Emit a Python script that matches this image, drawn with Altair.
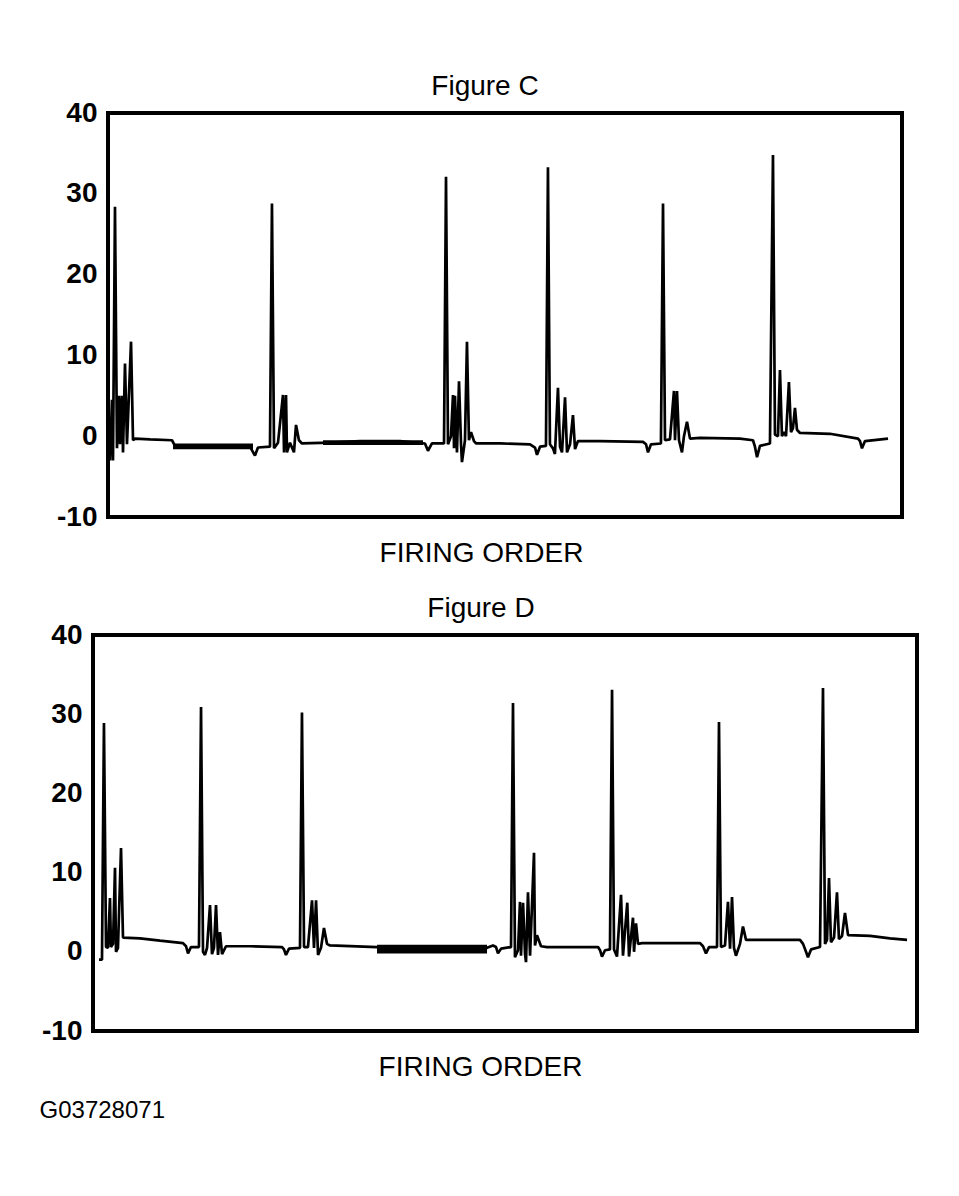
import altair as alt
import pandas as pd

FONT = "Liberation Sans"

# y axis tick values (kV)
y_ticks = [-10, 0, 10, 20, 30, 40]

# Figure C trace: position along sweep (% of sweep) and voltage (kV)
c_x = [0.25, 0.50, 0.63, 0.88, 1.13, 1.39, 1.51, 1.76, 1.89, 2.14, 2.39, 2.90, 3.15, 3.40,
       5.29, 8.06, 8.44, 17.88, 18.51, 18.89, 20.40, 20.65, 20.91, 21.41, 22.04, 22.17,
       22.42, 22.54, 22.92, 23.42, 23.68, 24.05, 24.43, 27.96, 31.74, 36.77, 39.92, 40.30,
       40.80, 42.32, 42.57, 42.82, 43.20, 43.45, 43.58, 43.70, 43.95, 44.21, 44.46, 44.58,
       44.96, 45.21, 45.46, 45.72, 46.09, 46.35, 49.37, 53.15, 53.78, 54.03, 54.41, 55.16,
       55.41, 55.66, 56.04, 56.29, 56.67, 56.93, 57.18, 57.56, 57.81, 58.19, 58.56, 58.82,
       59.19, 61.96, 67.38, 67.76, 68.01, 68.39, 69.64, 69.90, 70.15, 70.78, 71.28, 71.41,
       71.66, 71.91, 72.29, 72.54, 72.92, 73.30, 74.56, 79.59, 81.23, 81.48, 81.74, 82.11,
       83.37, 83.75, 84.00, 84.38, 84.63, 84.88, 85.14, 85.39, 85.76, 86.02, 86.27, 86.52,
       86.77, 87.15, 90.93, 94.46, 94.71, 94.96, 95.34, 98.24]
c_v = [-3.0, 4.5, -3.0, 28.4, -1.5, 5.0, -1.0, 5.0, -2.0, 9.0, -1.0, 11.7, -0.5, -0.3,
       -0.4, -0.5, -1.2, -1.3, -2.4, -1.4, -1.3, 28.8, -1.5, -0.8, 5.1, -2.0,
       5.1, -2.0, -0.8, -2.0, 1.4, -0.5, -0.9, -0.8, -0.6, -0.6, -0.9, -1.8,
       -0.9, -0.9, 32.1, -1.0, 0.0, 5.1, -1.5, 5.0, -2.0, 6.8, -1.0, -3.2,
       -0.5, 11.7, -0.5, 0.5, -0.6, -0.9, -0.9, -1.0, -1.4, -2.3, -1.3, -1.2,
       33.3, -1.0, -1.5, -2.2, 6.0, -1.3, -2.0, 4.8, -2.0, -1.0, 2.6, -1.6,
       -0.6, -0.6, -0.7, -1.0, -2.0, -1.0, -0.9, 28.8, -0.5, -0.4, 5.6, -0.5,
       5.6, -0.5, -2.0, 0.0, 1.8, -0.3, -0.2, -0.3, -0.5, -1.3, -2.6, -1.2,
       -0.9, 34.8, 0.2, 0.0, 8.2, 0.0, 0.5, 0.0, 6.7, 0.5, 1.0, 3.5,
       0.8, 0.4, 0.3, -0.3, -0.6, -1.5, -0.6, -0.3]

# Figure C thick (noisy) baseline stretches
c_band_x1 = [8.19, 27.08]
c_band_x2 = [18.26, 39.67]
c_band_lo = [-1.6, -1.1]
c_band_hi = [-0.9, -0.5]

# Figure D trace
d_x = [0.73, 1.09, 1.33, 1.58, 1.82, 2.06, 2.18, 2.43, 2.67, 2.79, 3.03, 3.40, 3.64, 5.70,
       8.13, 10.92, 11.29, 11.53, 11.89, 12.86, 13.11, 13.35, 13.59, 13.84, 14.20, 14.44,
       14.68, 14.93, 15.17, 15.41, 15.66, 16.14, 19.05, 22.94, 23.18, 23.42, 23.79, 25.12,
       25.36, 25.61, 26.09, 26.58, 26.82, 27.07, 27.31, 27.67, 28.03, 28.40, 28.76, 34.47,
       47.82, 48.54, 48.91, 49.15, 49.52, 50.73, 50.97, 51.21, 51.58, 51.82, 51.94, 52.19,
       52.43, 52.55, 52.79, 53.04, 53.52, 53.64, 53.88, 54.37, 55.10, 61.29, 61.53, 61.77,
       62.14, 62.74, 62.99, 63.23, 63.59, 64.08, 64.32, 64.84, 65.05, 65.53, 65.66, 65.90,
       66.14, 66.63, 73.67, 74.03, 74.39, 74.76, 75.73, 75.97, 76.21, 76.70, 77.06, 77.31,
       77.55, 77.79, 78.03, 78.52, 78.88, 79.25, 80.95, 85.80, 86.17, 86.53, 86.77, 87.14,
       88.23, 88.59, 88.84, 89.08, 89.32, 89.56, 89.93, 90.29, 90.53, 90.90, 91.26, 91.63,
       94.30, 96.72, 98.79]
d_v = [-1.0, -1.0, 28.9, 0.6, 0.5, 6.8, 0.6, 1.0, 10.6, 0.0, 0.5, 13.1, 1.8, 1.7,
       1.4, 1.1, 0.7, -0.2, 0.6, 0.6, 30.9, 0.0, -0.4, 0.5, 5.9, -0.3,
       0.5, 5.9, -0.4, 2.5, -0.3, 0.7, 0.7, 0.6, 0.3, -0.4, 0.4, 0.5,
       30.2, 0.6, 0.6, 6.5, 0.5, 6.5, -0.4, 0.5, 3.0, 1.0, 0.8, 0.6,
       0.5, 0.8, 0.6, -0.2, 0.4, 0.6, 31.4, -0.7, 0.2, 6.3, -0.5, 6.2,
       -0.3, -1.3, 7.5, -0.5, 12.5, 0.8, 2.1, 0.7, 0.6, 0.6, 0.2, -0.6,
       0.2, 0.3, 33.1, 0.3, -0.6, 7.2, -0.5, 6.2, -0.6, 4.3, 0.0, 3.6,
       1.0, 1.1, 1.1, 0.7, -0.2, 0.6, 0.6, 29.0, 0.6, 0.8, 6.3, 0.4,
       6.9, 0.5, -0.5, 1.0, 3.2, 1.5, 1.5, 1.5, 1.0, 0.0, -0.7, 0.3,
       0.6, 33.3, 1.0, 1.5, 9.3, 1.2, 1.8, 7.5, 1.6, 2.0, 4.9, 2.1,
       2.0, 1.7, 1.5]

d_band_x1 = [34.47]
d_band_x2 = [47.82]
d_band_lo = [-0.2]
d_band_hi = [0.9]


def panel(xs, vs, bx1, bx2, blo, bhi, title, w, h, label_pad, title_x, title_dx):
    trace = pd.DataFrame({"x": xs, "v": vs})
    bands = pd.DataFrame({"x1": bx1, "x2": bx2, "lo": blo, "hi": bhi})
    xsc = alt.Scale(domain=[0, 100], nice=False, zero=False)
    ysc = alt.Scale(domain=[-10, 40], nice=False, zero=False)
    xax = alt.Axis(title="FIRING ORDER", labels=False, ticks=False, tickSize=0,
                   domain=False, grid=False, titleFont=FONT, titleFontSize=28,
                   titleFontWeight="normal", titleColor="black", titlePadding=22,
                   titleX=title_x)
    yax = alt.Axis(values=y_ticks, title=None, labelFont=FONT, labelFontSize=28,
                   labelFontWeight="bold", labelColor="black", labelPadding=label_pad,
                   labelExpr="'' + datum.value",
                   ticks=False, tickSize=0, domain=False, grid=False)
    band = alt.Chart(bands).mark_rect(color="black").encode(
        x=alt.X("x1:Q", scale=xsc, axis=xax), x2="x2:Q",
        y=alt.Y("lo:Q", scale=ysc, axis=yax), y2="hi:Q")
    line = alt.Chart(trace).mark_line(color="black", strokeWidth=2.7, strokeJoin="bevel").encode(
        x=alt.X("x:Q", scale=xsc, axis=xax),
        y=alt.Y("v:Q", scale=ysc, axis=yax))
    return alt.layer(band, line).properties(
        width=w, height=h,
        title=alt.TitleParams(title, font=FONT, fontSize=28, fontWeight="normal",
                              color="black", anchor="middle", frame="group",
                              dx=title_dx, offset=-2))


pC = panel(c_x, c_v, c_band_x1, c_band_x2, c_band_lo, c_band_hi, "Figure C", 794, 404, 11, 373, -20)
pD = panel(d_x, d_v, d_band_x1, d_band_x2, d_band_lo, d_band_hi, "Figure D", 824, 396, 11, 387, -24)

chart = alt.vconcat(pC, pD, spacing=24, center=True).properties(
    title=alt.TitleParams("G03728071", orient="bottom", anchor="start", frame="bounds",
                          font=FONT, fontSize=24, fontWeight="normal", color="black",
                          offset=16),
    padding={"left": 31, "top": 63, "right": 5, "bottom": 5},
    background="white",
).configure_view(stroke="black", strokeWidth=4)

chart.save("out.html", embed_options={"renderer": "svg", "actions": False})
